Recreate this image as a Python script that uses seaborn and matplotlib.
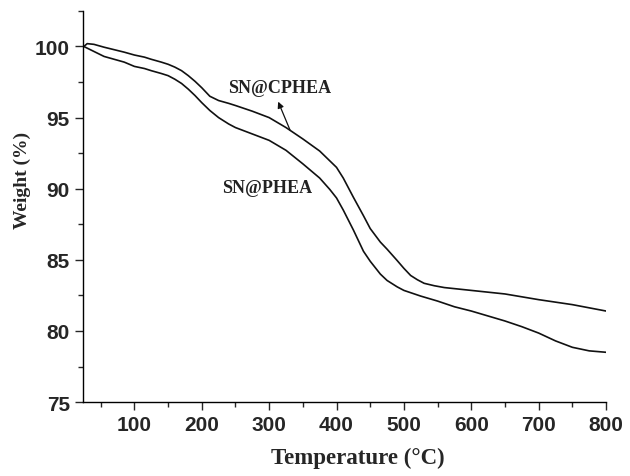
import matplotlib
matplotlib.use("Agg")
import matplotlib.pyplot as plt
from matplotlib.ticker import MultipleLocator
import pandas as pd
import seaborn as sns

# TGA curves
temp_cphea = [25, 30, 40, 55, 85, 100, 115, 125, 140, 150, 160, 170, 180, 190, 200, 212,
              225, 240, 250, 275, 300, 325, 350, 375, 400, 410, 425, 440, 450, 465, 475,
              490, 500, 510, 520, 530, 545, 560, 600, 650, 700, 750, 800]
weight_cphea = [100.0, 100.2, 100.15, 99.95, 99.6, 99.4, 99.25, 99.1, 98.9, 98.75, 98.55,
                98.3, 97.95, 97.55, 97.1, 96.5, 96.2, 96.0, 95.85, 95.45, 95.0, 94.3, 93.5,
                92.65, 91.5, 90.75, 89.4, 88.1, 87.2, 86.25, 85.75, 84.95, 84.4, 83.9,
                83.6, 83.35, 83.18, 83.05, 82.85, 82.6, 82.2, 81.85, 81.4]

temp_phea = [25, 55, 85, 100, 115, 125, 140, 150, 160, 170, 180, 190, 200, 212, 225, 240,
             250, 275, 300, 325, 350, 375, 390, 400, 410, 425, 440, 450, 465, 475, 490,
             500, 525, 550, 575, 600, 625, 650, 675, 700, 725, 750, 775, 800]
weight_phea = [100.0, 99.3, 98.9, 98.6, 98.45, 98.3, 98.1, 97.95, 97.7, 97.4, 97.0, 96.55,
               96.05, 95.5, 95.0, 94.55, 94.3, 93.85, 93.4, 92.7, 91.75, 90.75, 89.95, 89.35,
               88.5, 87.1, 85.6, 84.9, 84.0, 83.55, 83.1, 82.85, 82.45, 82.1, 81.7, 81.4,
               81.05, 80.7, 80.3, 79.85, 79.3, 78.85, 78.6, 78.5]

df = pd.concat([
    pd.DataFrame({"Temperature": temp_cphea, "Weight": weight_cphea, "Sample": "SN@CPHEA"}),
    pd.DataFrame({"Temperature": temp_phea, "Weight": weight_phea, "Sample": "SN@PHEA"}),
])

sns.set_style("ticks")
plt.rcParams["font.family"] = ["Liberation Sans", "DejaVu Sans"]

fig = plt.figure(figsize=(6.3, 4.77), dpi=100)
ax = fig.add_axes([0.132, 0.155, 0.83, 0.82])

sns.lineplot(data=df, x="Temperature", y="Weight", hue="Sample",
             palette=["#111111", "#111111"], linewidth=1.2, legend=False, ax=ax)

ax.set_xlim(24, 800)
ax.set_ylim(75, 102.5)
ax.xaxis.set_major_locator(MultipleLocator(100))
ax.xaxis.set_minor_locator(MultipleLocator(50))
ax.yaxis.set_major_locator(MultipleLocator(5))
ax.yaxis.set_minor_locator(MultipleLocator(2.5))
ax.tick_params(which="major", direction="out", length=6, width=1, labelsize=15)
ax.tick_params(which="minor", direction="out", length=3.5, width=1)
for lab in ax.get_xticklabels() + ax.get_yticklabels():
    lab.set_fontweight("bold")

sns.despine(ax=ax)
for s in ["left", "bottom"]:
    ax.spines[s].set_linewidth(1)
    ax.spines[s].set_color("black")

serif = ["Liberation Serif", "DejaVu Serif"]
ax.set_xlabel("Temperature (°C)", family=serif, fontweight="bold", fontsize=16.5)
ax.set_ylabel("Weight (%)", family=serif, fontweight="bold", fontsize=14)
ax.xaxis.set_label_coords(0.526, -0.115)
ax.yaxis.set_label_coords(-0.1, 0.57)

ax.text(315, 97.15, "SN@CPHEA", family=serif, fontweight="bold", fontsize=13,
        ha="center", va="center", color="#222222")
ax.text(297, 90.08, "SN@PHEA", family=serif, fontweight="bold", fontsize=13,
        ha="center", va="center", color="#222222")
ax.annotate("", xy=(313.4, 96.12), xytext=(331.2, 94.1),
            arrowprops=dict(arrowstyle="-|>", color="#111111", lw=0.9,
                            mutation_scale=9, shrinkA=0, shrinkB=0))

fig.savefig("out.png", dpi=100)
